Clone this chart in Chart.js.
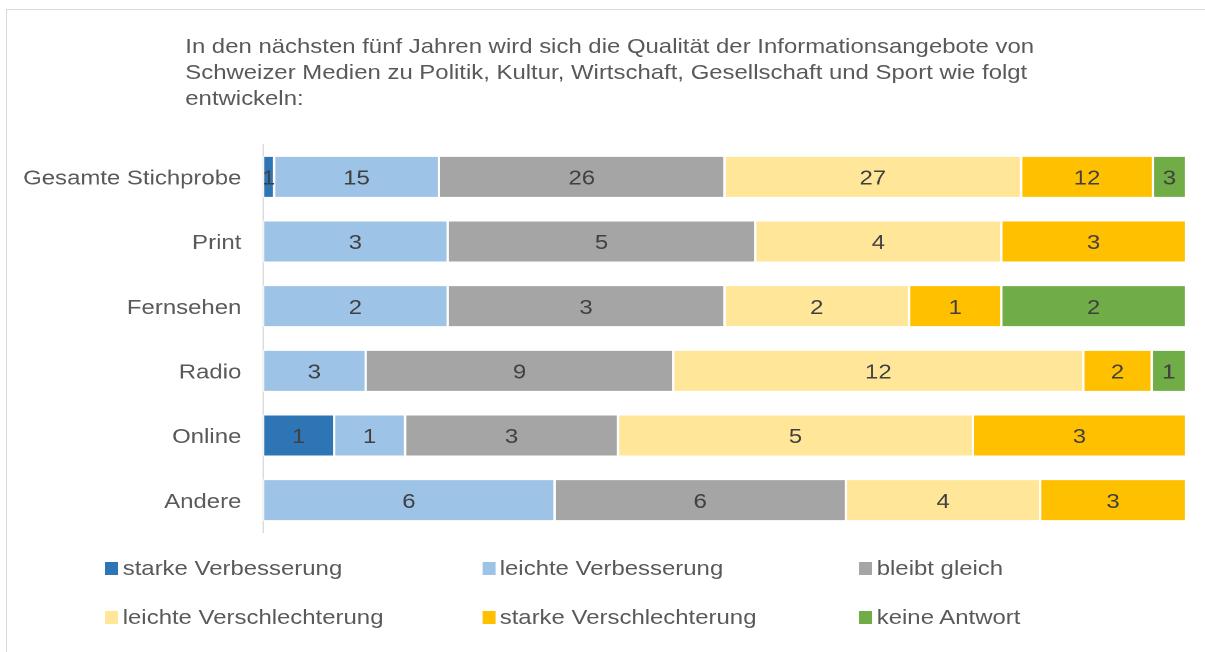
<!DOCTYPE html>
<html>
<head>
<meta charset="utf-8">
<script src="https://cdn.jsdelivr.net/npm/chart.js@4/dist/chart.umd.min.js"></script>
<style>
  html, body { margin: 0; padding: 0; background: #fff; overflow: hidden; }
  body { width: 1205px; height: 652px; position: relative; font-family: "Liberation Sans", Arial, sans-serif; }
  #rahmen { position: absolute; left: 6px; top: 9px; width: 1400px; height: 800px;
            border-left: 1px solid #d9d9d9; border-top: 1px solid #d9d9d9; }
  /* the reference text is a bit wider than normal Arial, so stretch the whole chart */
  #wrap { position: absolute; left: 0; top: 0; width: 1021px; height: 652px;
          transform: scaleX(1.18); transform-origin: 0 0; }
  #titel { position: absolute; left: 157px; top: 33px; font-size: 20.3px; line-height: 26px; color: #595959; }
  #grafik { position: absolute; left: 0; top: 0; }
  .leg { position: absolute; font-size: 20.3px; line-height: 26px; color: #595959; white-space: nowrap; }
  .leg span { position: absolute; width: 11px; height: 13px; top: 7px; }
</style>
</head>
<body>
<div id="rahmen"></div>
<div id="wrap">
  <div id="titel">In den nächsten fünf Jahren wird sich die Qualität der Informationsangebote von<br>Schweizer Medien zu Politik, Kultur, Wirtschaft, Gesellschaft und Sport wie folgt<br>entwickeln:</div>
  <canvas id="grafik" width="1021" height="652"></canvas>
  <div id="legende"></div>
</div>
<script>
var kategorien = ['Gesamte Stichprobe', 'Print', 'Fernsehen', 'Radio', 'Online', 'Andere'];

var serien = ['starke Verbesserung', 'leichte Verbesserung', 'bleibt gleich',
              'leichte Verschlechterung', 'starke Verschlechterung', 'keine Antwort'];

var starkeVerbesserung      = [1, 0, 0, 0, 1, 0];
var leichteVerbesserung     = [15, 3, 2, 3, 1, 6];
var bleibtGleich            = [26, 5, 3, 9, 3, 6];
var leichteVerschlechterung = [27, 4, 2, 12, 5, 4];
var starkeVerschlechterung  = [12, 3, 1, 2, 3, 3];
var keineAntwort            = [3, 0, 2, 1, 0, 0];

var farben = ['#2e75b6', '#9dc3e6', '#a5a5a5', '#ffe699', '#ffc000', '#70ad47'];

var werte = [starkeVerbesserung, leichteVerbesserung, bleibtGleich,
             leichteVerschlechterung, starkeVerschlechterung, keineAntwort];

// totals per category, bars are shown as 100% stacked
var summen = kategorien.map(function (k, i) {
  return werte.reduce(function (s, reihe) { return s + reihe[i]; }, 0);
});

var datasets = werte.map(function (reihe, j) {
  return {
    label: serien[j],
    anzahl: reihe,
    data: reihe.map(function (v, i) { return v / summen[i] * 100; }),
    backgroundColor: farben[j],
    borderColor: 'rgba(255,255,255,0.7)',
    borderWidth: 1,
    borderSkipped: false,
    categoryPercentage: 1,
    barPercentage: 0.65
  };
});

// counts written into the middle of every segment
var zahlenPlugin = {
  id: 'zahlen',
  afterDatasetsDraw: function (chart) {
    var ctx = chart.ctx;
    ctx.save();
    ctx.font = '20.3px "Liberation Sans", Arial, sans-serif';
    ctx.fillStyle = '#404040';
    ctx.textAlign = 'center';
    ctx.textBaseline = 'middle';
    chart.data.datasets.forEach(function (ds, j) {
      var meta = chart.getDatasetMeta(j);
      meta.data.forEach(function (bar, i) {
        if (ds.anzahl[i] > 0) {
          var p = bar.getCenterPoint();
          ctx.fillText(String(ds.anzahl[i]), p.x, p.y + 2);
        }
      });
    });
    ctx.restore();
  }
};

var ctx = document.getElementById('grafik').getContext('2d');
var grafik = new Chart(ctx, {
  type: 'bar',
  data: { labels: kategorien, datasets: datasets },
  plugins: [zahlenPlugin],
  options: {
    indexAxis: 'y',
    responsive: false,
    animation: false,
    devicePixelRatio: 2,
    layout: { padding: { left: 0, right: 16, top: 144.5, bottom: 119.5 } },
    plugins: { legend: { display: false }, tooltip: { enabled: false } },
    scales: {
      x: { stacked: true, min: 0, max: 100, display: false },
      y: {
        stacked: true,
        grid: { display: false, drawTicks: false },
        border: { display: true, color: '#d9d9d9', width: 1 },
        ticks: {
          color: '#595959',
          padding: 18.5,
          labelOffset: 2,
          font: { family: '"Liberation Sans", Arial, sans-serif', size: 20.3 }
        },
        afterFit: function (s) { s.width = 223; }
      }
    }
  }
});

// legend in two rows of three
var legPos = [
  { x: 89, y: 555 }, { x: 408.5, y: 555 }, { x: 728, y: 555 },
  { x: 89, y: 604 }, { x: 408.5, y: 604 }, { x: 728, y: 604 }
];
var legende = document.getElementById('legende');
serien.forEach(function (name, j) {
  var d = document.createElement('div');
  d.className = 'leg';
  d.style.left = legPos[j].x + 'px';
  d.style.top = legPos[j].y + 'px';
  d.style.paddingLeft = '15px';
  d.innerHTML = '<span style="left:0;background:' + farben[j] + '"></span>' + name;
  legende.appendChild(d);
});
</script>
</body>
</html>
